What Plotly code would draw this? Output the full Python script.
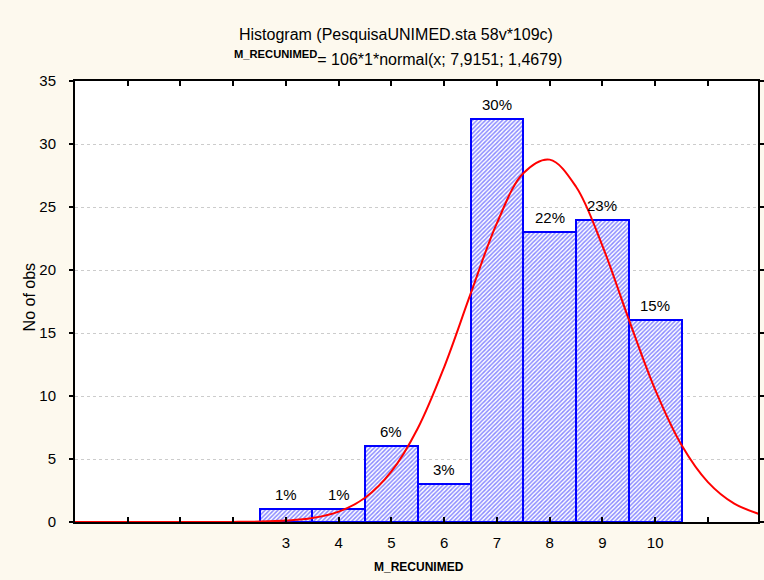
import plotly.graph_objects as go

# Data
categories = [3, 4, 5, 6, 7, 8, 9, 10]
counts = [1, 1, 6, 3, 32, 23, 24, 16]
pct_labels = ["1%", "1%", "6%", "3%", "30%", "22%", "23%", "15%"]

# fitted normal curve
curve_x = [-1, 0, 1, 1.5, 2, 2.5, 3, 3.5, 4, 4.5, 5, 5.5, 6, 6.5, 7, 7.5, 8,
           8.5, 9, 9.5, 10, 10.5, 11, 11.5, 12]
curve_y = [0, 0, 0, 0.002, 0.009, 0.032, 0.11, 0.31, 0.82, 1.92, 4.01, 7.44,
           12.30, 18.10, 23.72, 27.68, 28.76, 26.61, 21.92, 16.08, 10.51, 6.11,
           3.17, 1.46, 0.60]

xtick_vals = [3, 4, 5, 6, 7, 8, 9, 10]
xtick_text = ["3", "4", "5", "6", "7", "8", "9", "10"]
xtick_unlabeled = [0, 1, 2, 11]
ytick_vals = [0, 5, 10, 15, 20, 25, 30, 35]

W, H = 764, 580
ML, MR, MT, MB = 75, 0, 81, 58
FONT = "Arial, Liberation Sans, sans-serif"

fig = go.Figure()
fig.add_trace(go.Bar(
    x=categories, y=counts, width=1,
    marker=dict(color="white",
                line=dict(color="#0000ff", width=2),
                pattern=dict(shape="/", fgcolor="#1515ff", bgcolor="white",
                             size=3, solidity=0.5)),
    hoverinfo="skip", showlegend=False,
))
fig.add_trace(go.Scatter(
    x=curve_x, y=curve_y, mode="lines",
    line=dict(color="#ff0000", width=2, shape="spline", smoothing=1.0),
    showlegend=False, hoverinfo="skip",
))


def px_to_paper_x(px):
    return (px - ML) / (W - ML - MR)


def px_to_paper_y(py):
    return (H - MB - py) / (H - MT - MB)


annotations = [
    dict(text="Histogram (PesquisaUNIMED.sta 58v*109c)", xref="paper", yref="paper",
         x=px_to_paper_x(399), y=px_to_paper_y(34), xanchor="center", yanchor="middle",
         showarrow=False, font=dict(size=16)),
    dict(text="<b><sup>M_RECUNIMED</sup></b>= 106*1*normal(x; 7,9151; 1,4679)",
         xref="paper", yref="paper",
         x=px_to_paper_x(401), y=px_to_paper_y(58), xanchor="center", yanchor="middle",
         showarrow=False, font=dict(size=16)),
    dict(text="<b>M_RECUNIMED</b>", xref="paper", yref="paper",
         x=px_to_paper_x(422), y=px_to_paper_y(567), xanchor="center", yanchor="middle",
         showarrow=False, font=dict(size=12)),
    dict(text="No of obs", xref="paper", yref="paper", textangle=-90,
         x=px_to_paper_x(29), y=px_to_paper_y(297), xanchor="center", yanchor="middle",
         showarrow=False, font=dict(size=16)),
]
for c, v, t in zip(categories, counts, pct_labels):
    annotations.append(dict(text=t, x=c, y=v, xref="x", yref="y",
                            xanchor="center", yanchor="bottom", yshift=4,
                            showarrow=False, font=dict(size=15)))

fig.update_layout(
    width=W, height=H,
    margin=dict(l=ML, r=MR, t=MT, b=MB),
    paper_bgcolor="#fdf9ee",
    plot_bgcolor="white",
    font=dict(family=FONT, size=15, color="black"),
    bargap=0,
    xaxis=dict(range=[-1, 11.95], tickvals=xtick_vals, ticktext=xtick_text,
               ticks="inside", ticklen=5, tickwidth=1.5, tickcolor="black",
               minor=dict(tickvals=xtick_unlabeled, ticks="inside", ticklen=5,
                          tickwidth=1.5, tickcolor="black", showgrid=False),
               showline=True, linecolor="black", linewidth=2, mirror="ticks",
               showgrid=False, zeroline=False, ticklabelstandoff=6,
               tickfont=dict(size=15)),
    yaxis=dict(range=[0, 35], tickvals=ytick_vals,
               ticks="outside", ticklen=4, tickwidth=1.5, tickcolor="black",
               showline=True, linecolor="black", linewidth=2, mirror="ticks",
               showgrid=True, gridcolor="#cccccc", griddash="dot", gridwidth=1,
               zeroline=False, ticklabelstandoff=10, tickfont=dict(size=15)),
    annotations=annotations,
)

fig.write_html("out.html")
